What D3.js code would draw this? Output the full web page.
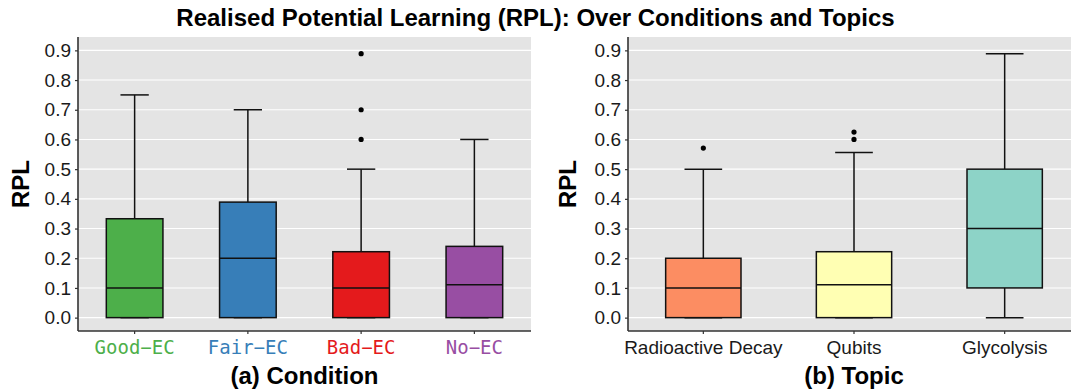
<!DOCTYPE html>
<html>
<head>
<meta charset="utf-8">
<script src="https://cdn.jsdelivr.net/npm/d3@7"></script>
<style>
  html, body { margin: 0; padding: 0; background: #fff; }
  svg { display: block; }
</style>
</head>
<body>
<svg id="chart" width="1071" height="391"></svg>
<script>
// ---------- data ----------
const conditions     = ["Good−EC", "Fair−EC", "Bad−EC", "No−EC"];
const condMin        = [0, 0, 0, 0];
const condQ1         = [0, 0, 0, 0];
const condMedian     = [0.1, 0.2, 0.1, 0.111];
const condQ3         = [0.333, 0.389, 0.222, 0.24];
const condMax        = [0.75, 0.7, 0.5, 0.6];
const condOutliers   = [[], [], [0.6, 0.7, 0.889], []];
const condColors     = ["#4DAF4A", "#377EB8", "#E41A1C", "#984EA3"];

const topics         = ["Radioactive Decay", "Qubits", "Glycolysis"];
const topicMin       = [0, 0, 0];
const topicQ1        = [0, 0, 0.1];
const topicMedian    = [0.1, 0.111, 0.3];
const topicQ3        = [0.2, 0.222, 0.5];
const topicMax       = [0.5, 0.556, 0.889];
const topicOutliers  = [[0.571], [0.6, 0.625], []];
const topicColors    = ["#FC8D62", "#FFFFB3", "#8DD3C7"];

const yTicks = [0, 0.1, 0.2, 0.3, 0.4, 0.5, 0.6, 0.7, 0.8, 0.9];
const titleText = "Realised Potential Learning (RPL): Over Conditions and Topics";
const yTitle = "RPL";
const xTitleA = "(a) Condition";
const xTitleB = "(b) Topic";

// ---------- layout ----------
const svg = d3.select("#chart");
const plotTop = 37, plotBottom = 331;
const y = d3.scaleLinear().domain([-0.045, 0.945]).range([plotBottom, plotTop]);

svg.append("text")
  .attr("x", 535.5).attr("y", 26)
  .attr("text-anchor", "middle")
  .attr("font-family", "Liberation Sans, Arial, sans-serif")
  .attr("font-weight", "bold")
  .attr("font-size", 24)
  .text(titleText);

function panel(opts) {
  const { left, right, cats, mins, q1s, meds, q3s, maxs, outs, colors, labelFont, labelSize, colorLabels, xTitle, yTitleX } = opts;
  const x = d3.scaleBand().domain(cats).range([left, right]).padding(0);
  const g = svg.append("g");
  const clipId = "clip" + Math.round(left);
  svg.append("clipPath").attr("id", clipId)
    .append("rect").attr("x", left).attr("y", plotTop).attr("width", right - left).attr("height", plotBottom - plotTop);

  const pg = g.append("g").attr("clip-path", `url(#${clipId})`);
  pg.append("rect").attr("x", left).attr("y", plotTop)
    .attr("width", right - left).attr("height", plotBottom - plotTop)
    .attr("fill", "#E4E4E4");
  pg.selectAll("line.grid").data(yTicks).join("line")
    .attr("x1", left).attr("x2", right)
    .attr("y1", d => y(d)).attr("y2", d => y(d))
    .attr("stroke", "#fff").attr("stroke-width", 1.1);

  const bw = x.bandwidth();
  cats.forEach((c, i) => {
    const cx = x(c) + bw / 2;
    const boxW = bw * 0.5, capW = bw * 0.25;
    const stroke = "#111", sw = 1.5;
    pg.append("line").attr("x1", cx).attr("x2", cx)
      .attr("y1", y(q3s[i])).attr("y2", y(maxs[i])).attr("stroke", stroke).attr("stroke-width", sw);
    pg.append("line").attr("x1", cx - capW / 2).attr("x2", cx + capW / 2)
      .attr("y1", y(maxs[i])).attr("y2", y(maxs[i])).attr("stroke", stroke).attr("stroke-width", sw);
    pg.append("line").attr("x1", cx).attr("x2", cx)
      .attr("y1", y(q1s[i])).attr("y2", y(mins[i])).attr("stroke", stroke).attr("stroke-width", sw);
    pg.append("line").attr("x1", cx - capW / 2).attr("x2", cx + capW / 2)
      .attr("y1", y(mins[i])).attr("y2", y(mins[i])).attr("stroke", stroke).attr("stroke-width", sw);
    pg.append("rect").attr("x", cx - boxW / 2).attr("y", y(q3s[i]))
      .attr("width", boxW).attr("height", y(q1s[i]) - y(q3s[i]))
      .attr("fill", colors[i]).attr("stroke", stroke).attr("stroke-width", sw);
    pg.append("line").attr("x1", cx - boxW / 2).attr("x2", cx + boxW / 2)
      .attr("y1", y(meds[i])).attr("y2", y(meds[i])).attr("stroke", stroke).attr("stroke-width", sw);
    pg.selectAll(null).data(outs[i]).join("circle")
      .attr("cx", cx).attr("cy", d => y(d)).attr("r", 2.6).attr("fill", "#000");
  });

  const ya = g.append("g").attr("transform", `translate(${left},0)`)
    .call(d3.axisLeft(y).tickValues(yTicks).tickFormat(d3.format(".1f")).tickSize(3).tickPadding(4));
  ya.select(".domain").attr("d", `M0,${plotTop}V${plotBottom}`).attr("stroke", "#333").attr("stroke-width", 1.6);
  ya.selectAll(".tick line").attr("stroke", "#333").attr("stroke-width", 1.2);
  ya.selectAll(".tick text").attr("font-family", "Liberation Sans, Arial, sans-serif").attr("font-size", 19).attr("fill", "#1a1a1a");

  const xa = g.append("g").attr("transform", `translate(0,${plotBottom})`)
    .call(d3.axisBottom(x).tickSize(3).tickPadding(7));
  xa.select(".domain").attr("d", `M${left},0H${right}`).attr("stroke", "#333").attr("stroke-width", 1.6);
  xa.selectAll(".tick line").attr("stroke", "#333").attr("stroke-width", 1.2);
  xa.selectAll(".tick text")
    .attr("font-family", labelFont).attr("font-size", labelSize)
    .attr("fill", (d, i) => colorLabels ? colors[i] : "#1a1a1a");

  svg.append("text")
    .attr("transform", `translate(${yTitleX},${(plotTop + plotBottom) / 2}) rotate(-90)`)
    .attr("text-anchor", "middle")
    .attr("font-family", "Liberation Sans, Arial, sans-serif")
    .attr("font-weight", "bold").attr("font-size", 24)
    .text(yTitle);
  svg.append("text")
    .attr("x", (left + right) / 2).attr("y", 384)
    .attr("text-anchor", "middle")
    .attr("font-family", "Liberation Sans, Arial, sans-serif")
    .attr("font-weight", "bold").attr("font-size", 24)
    .text(xTitle);
}

panel({
  left: 78, right: 531, cats: conditions, mins: condMin, q1s: condQ1, meds: condMedian,
  q3s: condQ3, maxs: condMax, outs: condOutliers, colors: condColors,
  labelFont: "DejaVu Sans Mono, monospace", labelSize: 19, colorLabels: true,
  xTitle: xTitleA, yTitleX: 29
});
panel({
  left: 628, right: 1080, cats: topics, mins: topicMin, q1s: topicQ1, meds: topicMedian,
  q3s: topicQ3, maxs: topicMax, outs: topicOutliers, colors: topicColors,
  labelFont: "Liberation Sans, Arial, sans-serif", labelSize: 19, colorLabels: false,
  xTitle: xTitleB, yTitleX: 576
});
</script>
</body>
</html>
